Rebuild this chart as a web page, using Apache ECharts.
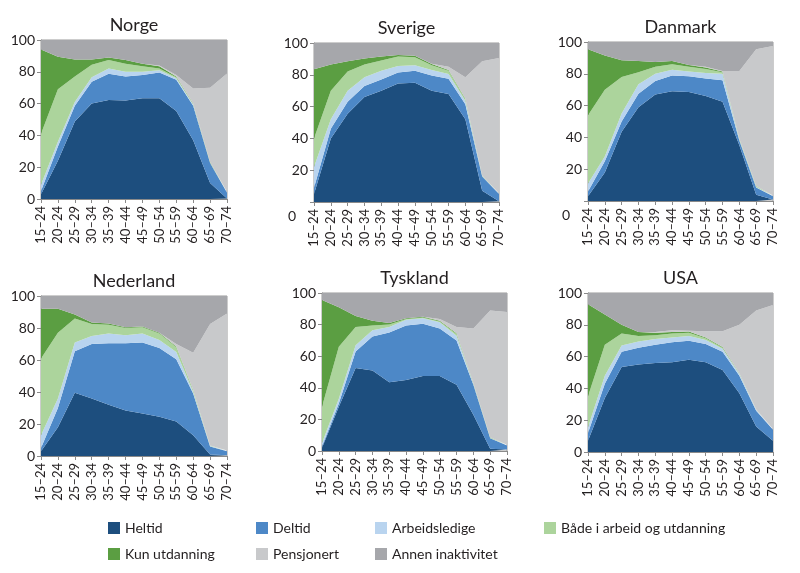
<!DOCTYPE html>
<html>
<head>
<meta charset="utf-8">
<script src="https://cdn.jsdelivr.net/npm/echarts@6/dist/echarts.min.js"></script>
<style>
  html, body { margin: 0; padding: 0; background: #fff; }
  #main { width: 800px; height: 573px; }
</style>
</head>
<body>
<div id="main"></div>
<script>
// age groups on the x axis
var ages = ['15–24','20–24','25–29','30–34','35–39','40–44','45–49','50–54','55–59','60–64','65–69','70–74'];
var countries = ['Norge','Sverige','Danmark','Nederland','Tyskland','USA'];
var names = ['Heltid','Deltid','Arbeidsledige','Både i arbeid og utdanning','Kun utdanning','Pensjonert','Annen inaktivitet'];
var colors = ['#1d4e7e','#4d88c7','#b9d4ef','#acd49c','#5b9e42','#c8c9cb','#a6a7ab'];

// share of population (%), one row per country in the order above
var heltid = [
  [3, 24, 48.7, 60, 62.3, 62, 63.4, 63.4, 55.4, 37, 10, 0.3],
  [5, 40, 55.5, 66, 70, 74.5, 75, 70, 68, 52, 7, 0.5],
  [3, 18, 43.5, 59, 67, 69, 68.5, 66, 62.5, 35, 4, 1],
  [3, 18, 39.5, 36, 32, 28.5, 26.5, 24.5, 21.5, 13, 1, 0.5],
  [2, 28, 52.5, 51, 43.5, 45, 47.5, 47.5, 42, 23, 1.5, 1],
  [7, 34, 53.5, 55, 56, 56.5, 58, 56.5, 51.5, 37, 16, 7]
];
var deltid = [
  [2, 9, 9.9, 13.8, 16.4, 15, 14.6, 16.1, 19.6, 21.6, 12.6, 3.7],
  [4, 6, 7.5, 7, 7, 7, 7.5, 9.5, 9.5, 9.5, 9, 4.5],
  [3, 7, 6.5, 8.5, 8.5, 10, 10, 11, 13.5, 3, 4.5, 2],
  [2, 12, 26, 34, 38.5, 42, 44.5, 43, 39, 26, 5, 2.5],
  [1, 2, 10.5, 21.5, 31.5, 34.5, 33, 30, 28, 19, 6.5, 2.5],
  [5, 9, 9.5, 10.5, 11.5, 12.5, 12, 11.5, 11.5, 11, 10, 7]
];
var arbeidsledige = [
  [4, 3, 2.4, 2.7, 3.3, 3, 2, 1.5, 1, 0.9, 0.2, 0.2],
  [13, 6, 7, 5.5, 5.5, 4, 3.5, 3.5, 3, 2, 0.3, 0.2],
  [5, 3, 5, 6, 4.5, 3.5, 3, 3.5, 4, 0.5, 0.3, 0.1],
  [8, 6, 5.5, 5, 6, 5, 5.5, 5, 4.5, 1, 0.3, 0.2],
  [2, 3, 4, 4, 3.5, 3.5, 3.5, 4, 3, 0.5, 0.3, 0.2],
  [3.5, 5, 4, 4, 3.5, 3, 3, 2.5, 2, 1, 0.5, 0.2]
];
var bade = [
  [32, 33, 16, 8, 5.5, 5, 3.5, 1, 0.5, 0.2, 0.2, 0.1],
  [18, 18, 12, 8, 6.5, 6, 5, 3, 2, 1, 0.2, 0.2],
  [43, 42, 23, 7.5, 4.5, 3.5, 3, 2.5, 1, 0.5, 0.4, 0.2],
  [48, 41, 15, 7.5, 5.5, 4.5, 4, 4, 3, 1, 0.2, 0.1],
  [23, 33, 11.5, 3, 1.5, 0.5, 0.5, 0.5, 1, 0.3, 0.2, 0.1],
  [19.5, 19.5, 7.5, 3.5, 2.5, 2.5, 2, 1, 0.5, 0.3, 0.2, 0.1]
];
var kunUtdanning = [
  [53, 20.5, 10.8, 3.3, 1.5, 2.5, 1.5, 1.5, 0.5, 0.3, 0.2, 0.2],
  [43.5, 16.5, 6.5, 3.8, 2.5, 1, 1, 0.8, 0.5, 0.5, 0.2, 0.1],
  [41.5, 21.5, 10.5, 7, 3, 2, 1, 1, 0.5, 0.2, 0.2, 0.2],
  [31, 15, 2.5, 1, 0.8, 0.5, 0.5, 0.5, 0.5, 0.2, 0.1, 0.1],
  [67.5, 25, 7, 3, 1, 0.5, 0.5, 0.5, 0.5, 0.2, 0.2, 0.1],
  [58, 19, 5.5, 2.5, 1.5, 1, 0.8, 0.5, 0.5, 0.2, 0.1, 0.1]
];
var pensjonert = [
  [0, 0, 0, 0, 0, 0, 0, 0.5, 1, 9.5, 46.8, 74.5],
  [0, 0, 0, 0, 0, 0, 0, 0.2, 2, 13.5, 71.8, 85],
  [0, 0, 0, 0, 0, 0, 0, 0.5, 0.3, 42.6, 86.1, 94],
  [0, 0, 0, 0, 0, 0, 0, 0, 1.5, 23.3, 75.9, 85.6],
  [0, 0, 0, 0, 0, 0, 0, 1, 4, 34.5, 80.3, 84.1],
  [0, 0, 0, 0, 0.5, 1, 0.4, 4, 10, 30.5, 62.2, 78.1]
];
var annen = [
  [6, 10.5, 12.2, 12.2, 11, 12.5, 15, 16, 22, 30.5, 30, 21],
  [16.5, 13.5, 11.5, 9.7, 8.5, 7.5, 8, 13, 15, 21.5, 11.5, 9.5],
  [4.5, 8.5, 11.5, 12, 12.5, 12, 14.5, 15.5, 18.2, 18.2, 4.5, 2.5],
  [8, 8, 11.5, 16.5, 17.2, 19.5, 19, 23, 30, 35.5, 17.5, 11],
  [4.5, 9, 14.5, 17.5, 19, 16, 15, 16.5, 21.5, 22.5, 11, 12],
  [7, 13.5, 20, 24.5, 24.5, 23.5, 23.8, 24, 24, 20, 11, 7.5]
];
var layers = [heltid, deltid, arbeidsledige, bade, kunUtdanning, pensjonert, annen];

var font = 'Lato, "Open Sans", sans-serif';
var ink = '#231f20';
// plot boxes: left, top, width, height
var boxes = [
  [41, 40, 186, 159], [314, 43, 185, 159], [588, 42, 185, 159],
  [41, 296, 186, 160], [322, 293, 185, 158], [588, 293, 185, 159]
];
// Sverige and Danmark have their "0" label sitting low and to the left
var zeroDrop = [0, 28, 28, 0, 0, 0];

var grids = [], xAxes = [], yAxes = [], series = [], titles = [];
boxes.forEach(function(b, i){
  grids.push({left: b[0], top: b[1], width: b[2], height: b[3],
    show: true, borderColor: '#9a9a9a', borderWidth: 1, backgroundColor: 'transparent'});
  xAxes.push({
    type: 'category', gridIndex: i, data: ages, boundaryGap: false,
    axisLine: {lineStyle: {color: '#8a8a8a'}},
    axisTick: {length: 4, lineStyle: {color: '#8a8a8a'}},
    axisLabel: {interval: 0, rotate: 90, margin: 7, color: ink, fontSize: 13, fontFamily: font}
  });
  (function(drop){
    yAxes.push({
      type: 'value', gridIndex: i, min: 0, max: 100, interval: 20,
      splitLine: {show: false},
      axisLine: {show: true, lineStyle: {color: '#8a8a8a'}},
      axisTick: {show: true, length: 4, lineStyle: {color: '#8a8a8a'}},
      axisLabel: {
        margin: 6, color: ink, fontSize: 14, fontFamily: font,
        formatter: function(v){ return (v === 0 && drop) ? '{low|0}' : String(v); },
        rich: {low: {padding: [drop, 12, 0, 0], color: ink, fontSize: 14, fontFamily: font}}
      }
    });
  })(zeroDrop[i]);
  layers.forEach(function(layer, k){
    series.push({
      name: names[k], type: 'line', xAxisIndex: i, yAxisIndex: i,
      stack: 'land' + i, data: layer[i],
      symbol: 'none', lineStyle: {width: 0}, color: colors[k],
      areaStyle: {color: colors[k], opacity: 1},
      emphasis: {disabled: true}
    });
  });
  titles.push({
    type: 'text', x: b[0] + b[2] / 2, y: b[1] - 15,
    style: {text: countries[i], align: 'center', verticalAlign: 'middle',
      fontSize: 18, fontFamily: font, fill: ink}
  });
});

// legend, laid out in two rows like the original
var legendPos = [[108, 521], [256, 521], [375, 521], [544, 521], [108, 547], [256, 547], [375, 547]];
var legends = names.map(function(n, k){
  return {
    data: [n], left: legendPos[k][0], top: legendPos[k][1], padding: 0,
    icon: 'rect', itemWidth: 12, itemHeight: 12, itemGap: 6,
    textStyle: {color: ink, fontSize: 14, fontFamily: font, padding: [0, 0, 0, 0]},
    selectedMode: false
  };
});

var chart = echarts.init(document.getElementById('main'));
chart.setOption({
  animation: false,
  backgroundColor: '#fff',
  grid: grids, xAxis: xAxes, yAxis: yAxes,
  series: series, legend: legends, graphic: titles
});
</script>
</body>
</html>
